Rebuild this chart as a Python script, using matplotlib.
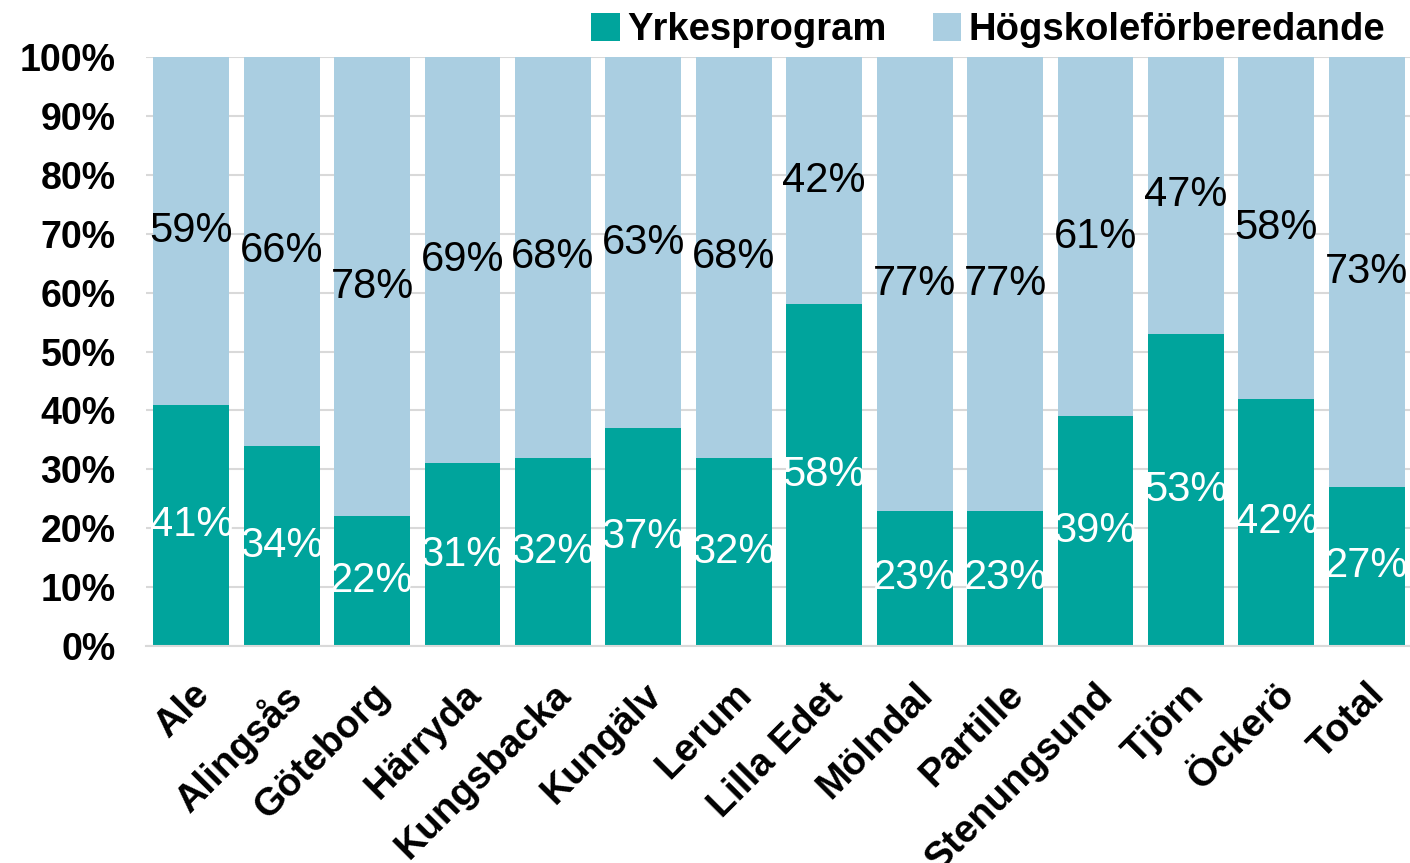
import matplotlib.pyplot as plt
from matplotlib.ticker import PercentFormatter, MultipleLocator

# Data
kommuner = ["Ale", "Alingsås", "Göteborg", "Härryda", "Kungsbacka", "Kungälv", "Lerum",
            "Lilla Edet", "Mölndal", "Partille", "Stenungsund", "Tjörn", "Öckerö", "Total"]
yrkesprogram = [41, 34, 22, 31, 32, 37, 32, 58, 23, 23, 39, 53, 42, 27]
hogskoleforb = [59, 66, 78, 69, 68, 63, 68, 42, 77, 77, 61, 47, 58, 73]

teal = "#00A49C"
ljusbla = "#AACEE1"

plt.rcParams['font.family'] = ['Liberation Sans', 'DejaVu Sans']

fig = plt.figure(figsize=(14.1, 8.63), dpi=100)
ax = fig.add_axes([146/1410, (863-646)/863, 1266/1410, (646-57)/863])

x = range(len(kommuner))
b1 = ax.bar(x, yrkesprogram, width=0.84, color=teal, label="Yrkesprogram", zorder=2)
b2 = ax.bar(x, hogskoleforb, width=0.84, bottom=yrkesprogram, color=ljusbla,
            label="Högskoleförberedande", zorder=2)

# data labels, centered in each segment
for i in x:
    ax.text(i, yrkesprogram[i] / 2, f"{yrkesprogram[i]}%", ha="center", va="center",
            color="white", fontsize=30, zorder=3)
    ax.text(i, yrkesprogram[i] + hogskoleforb[i] / 2, f"{hogskoleforb[i]}%", ha="center",
            va="center", color="black", fontsize=30, zorder=3)

ax.set_xlim(-0.5, len(kommuner) - 0.5)
ax.set_ylim(0, 100)
ax.yaxis.set_major_locator(MultipleLocator(10))
ax.yaxis.set_major_formatter(PercentFormatter(decimals=0))
ax.grid(axis="y", color="#D9D9D9", linewidth=1.5, zorder=0)
ax.set_axisbelow(True)

for s in ["top", "right", "left"]:
    ax.spines[s].set_visible(False)
ax.spines["bottom"].set_color("#D9D9D9")
ax.spines["bottom"].set_linewidth(1.5)
ax.tick_params(axis="both", length=0)
ax.tick_params(axis="y", labelsize=27, pad=22)
for t in ax.get_yticklabels():
    t.set_fontweight("bold")

ax.set_xticks(list(x))
ax.set_xticklabels(kommuner, rotation=45, ha="right", rotation_mode="anchor",
                   fontsize=28, fontweight="bold")
ax.tick_params(axis="x", pad=22)

fig.legend(handles=[b1, b2], loc="upper right", bbox_to_anchor=(1420/1410, 1.026), ncol=2,
           frameon=False, handlelength=0.75, handleheight=0.75, handletextpad=0.2,
           columnspacing=1.2, prop={"weight": "bold", "size": 27.5})

fig.savefig("out.png", dpi=100)
